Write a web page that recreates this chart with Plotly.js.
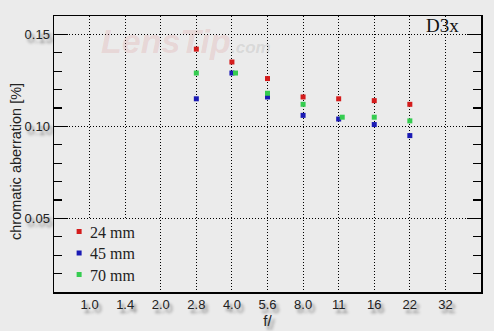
<!DOCTYPE html>
<html>
<head>
<meta charset="utf-8">
<script src="https://cdn.plot.ly/plotly-3.0.1.min.js"></script>
<style>
html,body{margin:0;padding:0;background:#ebebeb;}
#chart{width:494px;height:331px;}
.xtick text,.ytick text,.g-xtitle text,.g-ytitle text{text-shadow:3px 4px 3px rgba(0,0,0,0.45);}
</style>
</head>
<body>
<div id="chart"></div>
<script>
// f-number categories on the x axis
const fStops = ['1.0','1.4','2.0','2.8','4.0','5.6','8.0','11','16','22','32'];
// apertures that were measured
const measured = ['2.8','4.0','5.6','8.0','11','16','22'];
// chromatic aberration [%] per focal length
const ca24 = [0.142, 0.135, 0.126, 0.116, 0.115, 0.114, 0.112];
const ca45 = [0.115, 0.129, 0.116, 0.106, 0.104, 0.101, 0.095];
const ca70 = [0.129, 0.129, 0.118, 0.112, 0.105, 0.105, 0.103];
const seriesNames = ['24 mm', '45 mm', '70 mm'];
const camera = 'D3x';

const idx = measured.map(f => fStops.indexOf(f));
// green marker nudged right where it would hide the blue one
const idx70 = idx.map((v, i) => Math.abs(ca70[i] - ca45[i]) < 0.0015 ? v + 0.1 : v);

const mk = (name, x, y, color) => ({
  type: 'scatter', mode: 'markers', name: name, x: x, y: y,
  marker: {symbol: 'square', size: 5, color: color, line: {width: 0}},
  hoverinfo: 'skip'
});

const data = [
  mk(seriesNames[0], idx, ca24, '#d41c1c'),
  mk(seriesNames[1], idx, ca45, '#1a1ab4'),
  mk(seriesNames[2], idx70, ca70, '#35cc50')
];

const bg = '#ebebeb';
const tickFont = {family: 'Liberation Sans, Arial, sans-serif', size: 13, color: '#222'};
const gridDash = '1px,2px';

const layout = {
  width: 494, height: 331,
  margin: {l: 54, r: 13, t: 16, b: 39},
  paper_bgcolor: bg, plot_bgcolor: bg,
  showlegend: true,
  legend: {
    x: 0.012, y: 0.0, xanchor: 'left', yanchor: 'bottom',
    bgcolor: 'rgba(0,0,0,0)', borderwidth: 0,
    font: {family: 'Liberation Serif, Times New Roman, serif', size: 16, color: '#222'},
    itemwidth: 30, tracegroupgap: 0
  },
  xaxis: {
    range: [-1, 11],
    tickmode: 'array', tickvals: fStops.map((f, i) => i), ticktext: fStops,
    showgrid: true, gridcolor: '#000', griddash: gridDash, gridwidth: 1,
    zeroline: false, ticks: '', showline: true, mirror: true,
    linecolor: '#000', linewidth: 1.5,
    tickfont: tickFont,
    title: {text: 'f/', font: {family: 'Liberation Sans, Arial, sans-serif', size: 15, color: '#222'}, standoff: 0}
  },
  yaxis: {
    range: [0.01, 0.16],
    tickmode: 'linear', tick0: 0, dtick: 0.05, tickformat: '.2f',
    showgrid: true, gridcolor: '#000', griddash: gridDash, gridwidth: 1,
    zeroline: false, ticks: 'inside', ticklen: 14, tickcolor: '#000', tickwidth: 1.2,
    showline: true, mirror: 'ticks', linecolor: '#000', linewidth: 1.5,
    minor: {dtick: 0.01, tick0: 0, ticks: 'inside', ticklen: 8, tickcolor: '#000', tickwidth: 1.2, showgrid: false},
    tickfont: tickFont,
    title: {text: ''}
  },
  shapes: [
    // legend backdrop hiding the grid behind the legend
    {type: 'rect', layer: 'above', xref: 'paper', yref: 'paper', x0: 0.024, x1: 0.225, y0: 0.004, y1: 0.262,
     fillcolor: bg, line: {width: 0}}
  ],
  annotations: [
    {text: 'chromatic aberration [%]', xref: 'paper', yref: 'paper', x: 0, xshift: -38, y: 0.5, yshift: -8,
     xanchor: 'center', yanchor: 'middle', textangle: -90, showarrow: false,
     font: {family: 'Liberation Sans, Arial, sans-serif', size: 14.5, color: '#222'}},
    {text: camera, xref: 'paper', yref: 'paper', x: 0.952, y: 0.967, xanchor: 'right', yanchor: 'middle',
     showarrow: false, font: {family: 'Liberation Serif, Times New Roman, serif', size: 19, color: '#111'}},
    {text: '<b><i>LensTip</i></b>', xref: 'paper', yref: 'paper', x: 0.105, y: 0.91, xanchor: 'left', yanchor: 'middle',
     showarrow: false, font: {family: 'Liberation Sans, Arial, sans-serif', size: 34, color: 'rgba(215,110,110,0.18)'}},
    {text: '<b><i>.com</i></b>', xref: 'paper', yref: 'paper', x: 0.41, y: 0.885, xanchor: 'left', yanchor: 'middle',
     showarrow: false, font: {family: 'Liberation Sans, Arial, sans-serif', size: 17, color: 'rgba(120,120,120,0.18)'}}
  ]
};

Plotly.newPlot('chart', data, layout, {staticPlot: true, displayModeBar: false}).then(() => {
  document.querySelectorAll('.legendtext').forEach(t => t.setAttribute('x', 31));
  const items = document.querySelectorAll('.legend .traces');
  const n = items.length;
  const re = /translate\(([-\d.]+),\s*([-\d.]+)\)/;
  const lastM = re.exec(items[n - 1].getAttribute('transform') || '');
  if (!lastM) return;
  const lastY = parseFloat(lastM[2]);
  // tighten the legend row spacing, keeping the last row in place
  items.forEach((g, i) => {
    const m = re.exec(g.getAttribute('transform') || '');
    if (!m) return;
    g.setAttribute('transform', 'translate(' + m[1] + ',' + (lastY - (n - 1 - i) * 21.5) + ')');
  });
});
</script>
</body>
</html>
